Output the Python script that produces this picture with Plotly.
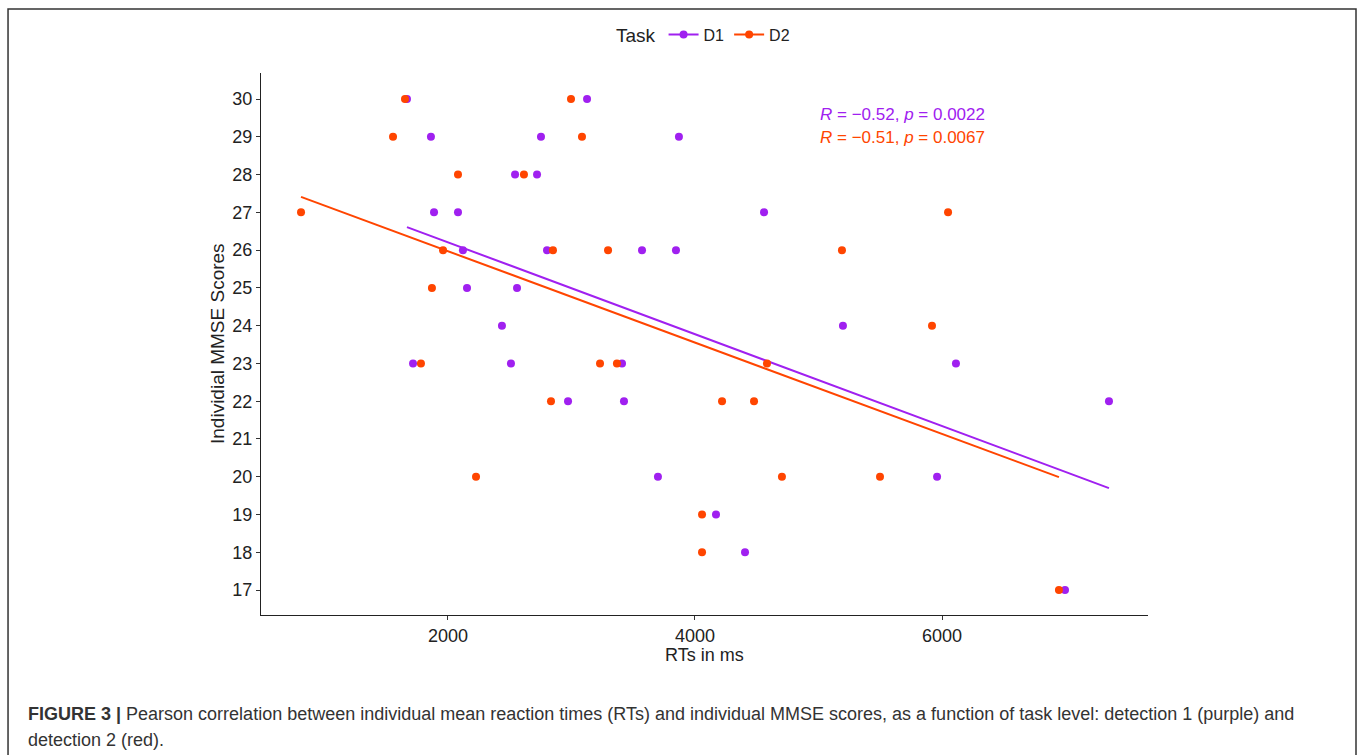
import plotly.graph_objects as go

# ---- data ----
d1_rt = [1668, 3126,
         1862, 2753, 3870,
         2543, 2721,
         1887, 2081, 4559,
         2121, 2802, 3571, 3846,
         2154, 2559,
         2437, 5198,
         1717, 2510, 3409, 6113,
         2972, 3425, 7352,
         3700, 5960,
         4170,
         4405,
         6996]
d1_mmse = [30, 30,
           29, 29, 29,
           28, 28,
           27, 27, 27,
           26, 26, 26, 26,
           25, 25,
           24, 24,
           23, 23, 23, 23,
           22, 22, 22,
           20, 20,
           19,
           18,
           17]

d2_rt = [1652, 2996,
         1555, 3085,
         2081, 2615,
         810, 6049,
         1960, 2850, 3296, 5190,
         1870,
         5919,
         1781, 3231, 3368, 4583,
         2834, 4219, 4478,
         2227, 4704, 5498,
         4057,
         4057,
         6947]
d2_mmse = [30, 30,
           29, 29,
           28, 28,
           27, 27,
           26, 26, 26, 26,
           25,
           24,
           23, 23, 23, 23,
           22, 22, 22,
           20, 20, 20,
           19,
           18,
           17]

# regression lines as drawn in the reference (end points)
d1_fit_rt = [1668, 7352]
d1_fit_mmse = [26.61, 19.70]
d2_fit_rt = [810, 6947]
d2_fit_mmse = [27.41, 19.99]

series_names = ["D1", "D2"]
series_colors = ["#A020F0", "#FF4500"]
stat_labels = ["<i>R</i> = \u22120.52, <i>p</i> = 0.0022",
               "<i>R</i> = \u22120.51, <i>p</i> = 0.0067"]
x_ticks = [2000, 4000, 6000]
y_ticks = list(range(17, 31))

caption_1 = ("<b>FIGURE 3 |</b> Pearson correlation between individual mean reaction times (RTs) "
             "and individual MMSE scores, as a function of task level: detection 1 (purple) and")
caption_2 = "detection 2 (red)."

fig = go.Figure()
font_main = "Liberation Sans, Arial, sans-serif"

for name, color, xs, ys, fx, fy in zip(series_names, series_colors,
                                       [d1_rt, d2_rt], [d1_mmse, d2_mmse],
                                       [d1_fit_rt, d2_fit_rt], [d1_fit_mmse, d2_fit_mmse]):
    fig.add_trace(go.Scatter(x=fx, y=fy, mode="lines",
                             line=dict(color=color, width=2),
                             showlegend=False, hoverinfo="skip"))
    fig.add_trace(go.Scatter(x=xs, y=ys, mode="markers",
                             marker=dict(color=color, size=8),
                             showlegend=False, name=name))
    fig.add_trace(go.Scatter(x=[None], y=[None], mode="lines+markers",
                             line=dict(color=color, width=2),
                             marker=dict(color=color, size=8),
                             name=name, showlegend=True))

# stat labels
for i, (lab, color) in enumerate(zip(stat_labels, series_colors)):
    fig.add_annotation(x=5000, y=29.6 - i * 0.61, xref="x", yref="y",
                       text=lab, showarrow=False, xanchor="left", yanchor="middle",
                       font=dict(family=font_main, size=17, color=color))

# axis titles as annotations
fig.add_annotation(x=0.5, y=-0.074, xref="paper", yref="paper",
                   text="RTs in ms", showarrow=False, xanchor="center", yanchor="middle",
                   font=dict(family=font_main, size=18, color="#222"))
fig.add_annotation(x=-0.0496, y=0.5, xref="paper", yref="paper",
                   text="Individial MMSE Scores", showarrow=False, textangle=-90,
                   xanchor="center", yanchor="middle",
                   font=dict(family=font_main, size=19, color="#222"))

# caption
fig.add_annotation(x=-0.265, y=-0.183, xref="paper", yref="paper",
                   text=caption_1, showarrow=False, xanchor="left", yanchor="middle",
                   font=dict(family=font_main, size=18, color="#333"))
fig.add_annotation(x=-0.265, y=-0.231, xref="paper", yref="paper",
                   text=caption_2, showarrow=False, xanchor="left", yanchor="middle",
                   font=dict(family=font_main, size=18, color="#333"))

# outer frame
fig.add_shape(type="rect", xref="paper", yref="paper",
              x0=-0.2852, x1=1.2345, y0=-0.3, y1=1.118,
              line=dict(color="#333", width=1.5), fillcolor="rgba(0,0,0,0)")

fig.update_xaxes(range=[486, 7668], tickvals=x_ticks, showline=True, linecolor="#222",
                 linewidth=1, ticks="outside", ticklen=4, tickcolor="#333",
                 showgrid=False, zeroline=False,
                 tickfont=dict(family=font_main, size=18, color="#222"))
fig.update_yaxes(range=[16.34, 30.69], tickvals=y_ticks, showline=True, linecolor="#222",
                 linewidth=1, ticks="outside", ticklen=4, tickcolor="#333",
                 showgrid=False, zeroline=False,
                 tickfont=dict(family=font_main, size=18, color="#222"))

fig.update_layout(
    width=1360, height=755,
    margin=dict(l=261, r=212, t=73, b=140),
    paper_bgcolor="white", plot_bgcolor="white",
    showlegend=True,
    legend=dict(orientation="h", x=0.5, xanchor="center", y=1.07, yanchor="middle",
                title=dict(text="Task", font=dict(family=font_main, size=19, color="#222")),
                font=dict(family=font_main, size=16, color="#222"),
                itemwidth=30, bgcolor="rgba(0,0,0,0)"),
    font=dict(family=font_main),
)

fig.write_html("out.html")
